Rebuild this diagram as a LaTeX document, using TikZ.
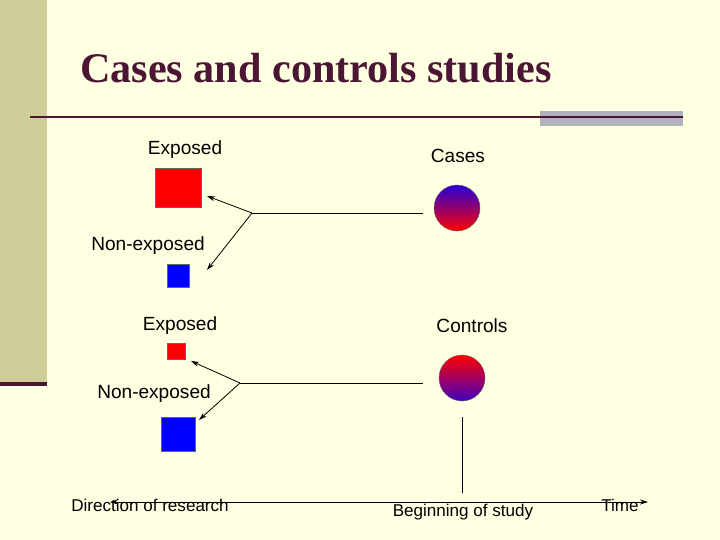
\documentclass[tikz,border=0pt]{standalone}
\usepackage{fontspec}
\setmainfont{Liberation Sans}
\newfontfamily\titlefont{Liberation Serif}
\usetikzlibrary{arrows.meta}
\definecolor{cream}{RGB}{255,255,226}
\definecolor{khaki}{RGB}{206,206,152}
\definecolor{maroon}{RGB}{74,22,52}
\definecolor{bargrey}{RGB}{178,178,190}

\begin{document}
\begin{tikzpicture}[x=0.035cm, y=-0.035cm,
	lbl/.style={font=\fontsize{19}{19}\selectfont, inner sep=0pt},
	small/.style={font=\fontsize{17}{17}\selectfont, inner sep=0pt},
	box/.style={draw=black!60, inner sep=0pt},
	arr/.style={-{Stealth[length=8pt,width=5pt]}, thick}]
	\useasboundingbox (0,0) rectangle (720,540);
	\fill[cream] (0,0) rectangle (720,540);
	\fill[khaki] (0,0) rectangle (47,383);
	\fill[maroon] (0,382) rectangle (47,386);
	
	% title
	\node[anchor=base west, text=maroon, font=\titlefont\bfseries\fontsize{42}{42}\selectfont, inner sep=0pt] (title) at (80,82) {Cases and controls studies};
	\fill[bargrey] (540,111) rectangle (683,126);
	\draw[maroon, line width=1.5pt] (30,117) -- (683,117);
	
	% squares
	\node[box, fill=red, minimum width=1.61cm, minimum height=1.37cm] (expA) at (178,187.5) {};
	\node[box, fill=blue, minimum width=0.77cm, minimum height=0.8cm] (nonA) at (178,275.5) {};
	\node[box, fill=red, minimum width=0.63cm, minimum height=0.56cm] (expB) at (176,351) {};
	\node[box, fill=blue, minimum width=1.19cm, minimum height=1.19cm] (nonB) at (178,434) {};
	
	% circles
	\shade[top color=blue!85!red, bottom color=red, draw=black!60] (457,208) circle (23);
	\node[circle, minimum size=1.61cm] (cases) at (457,208) {};
	\shade[top color=red, bottom color=blue!75!red, draw=black!60] (462,378) circle (23);
	\node[circle, minimum size=1.61cm] (ctrls) at (462,378) {};
	
	% branches
	\coordinate (forkA) at (252,213);
	\coordinate (endA) at (423,213);
	\draw (endA) -- (forkA);
	\draw[arr] (forkA) -- (207,196);
	\draw[arr] (forkA) -- (207,270);
	\coordinate (forkB) at (240,383);
	\coordinate (endB) at (423,383);
	\draw (endB) -- (forkB);
	\draw[arr] (forkB) -- (191,361);
	\draw[arr] (forkB) -- (199,420);
	
	% time axis
	\coordinate (start) at (462,417);
	\coordinate (tick) at (462,493);
	\draw (start) -- (tick);
	\coordinate (left) at (110,502);
	\coordinate (right) at (648,502);
	\draw[{Stealth[length=8pt,width=5pt]}-{Stealth[length=8pt,width=5pt]}, thick] (left) -- (right);
	
	% labels
	\node[lbl] (lexpA) at (185,150) {Exposed};
	\node[lbl] (lcases) at (458,156) {Cases};
	\node[lbl] (lnonA) at (148,246) {Non-exposed};
	\node[lbl] (lexpB) at (180,326) {Exposed};
	\node[lbl] (lctrls) at (472,326) {Controls};
	\node[lbl] (lnonB) at (154,394) {Non-exposed};
	\node[small] (ldir) at (150,505) {Direction of research};
	\node[small] (lbeg) at (463,512) {Beginning of study};
	\node[small] (ltime) at (620,505) {Time};
\end{tikzpicture}
\end{document}
